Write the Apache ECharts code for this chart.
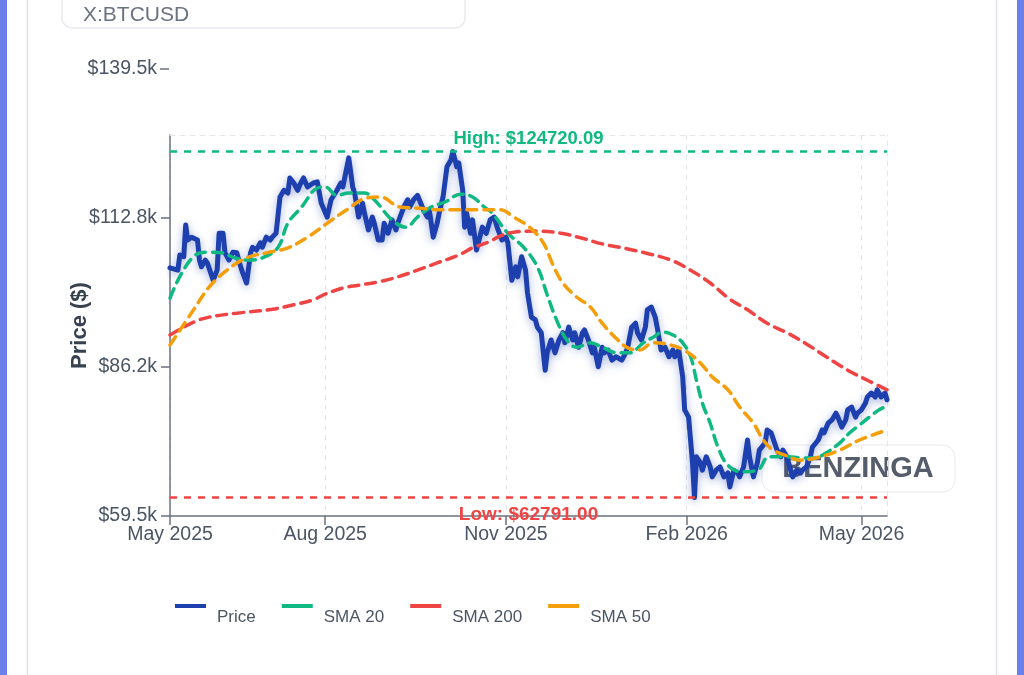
<!DOCTYPE html>
<html>
<head>
<meta charset="utf-8">
<title>X:BTCUSD</title>
<script src="https://cdn.jsdelivr.net/npm/echarts@6/dist/echarts.min.js"></script>
<style>
html, body { margin: 0; padding: 0; background: #fff; }
#chart { width: 1024px; height: 675px; }
</style>
</head>
<body>
<div id="chart"></div>
<script>
var FONT = '"Liberation Sans", Arial, Helvetica, sans-serif';

var highValue = 124720.09;
var lowValue = 62791.00;

var xStart = '2025-05-14';
var xEnd = '2026-05-14';
var xTickDates = ['2025-05-14', '2025-08-01', '2025-11-01', '2026-02-01', '2026-05-01'];
var xTickLabels = ['May 2025', 'Aug 2025', 'Nov 2025', 'Feb 2026', 'May 2026'];

var yMin = 59500;
var yMax = 127690;
var yTickValues = [59500, 86166.67, 112833.33, 139500];

var priceData = [
    ['2025-05-14', 103900], ['2025-05-18', 103500], ['2025-05-19', 106200], ['2025-05-21', 105900],
    ['2025-05-22', 111600], ['2025-05-23', 108900], ['2025-05-25', 109400], ['2025-05-28', 108900],
    ['2025-05-29', 105300], ['2025-05-30', 104100], ['2025-06-01', 105300], ['2025-06-02', 104800],
    ['2025-06-05', 101700], ['2025-06-07', 103500], ['2025-06-08', 110100], ['2025-06-10', 110100],
    ['2025-06-11', 106600], ['2025-06-13', 105300], ['2025-06-15', 106700], ['2025-06-17', 106600],
    ['2025-06-19', 104100], ['2025-06-20', 103000], ['2025-06-22', 101200], ['2025-06-24', 106600],
    ['2025-06-25', 107600], ['2025-06-27', 107100], ['2025-06-29', 108400], ['2025-06-30', 107600],
    ['2025-07-02', 109400], ['2025-07-04', 108900], ['2025-07-05', 109400], ['2025-07-07', 110100],
    ['2025-07-09', 116600], ['2025-07-11', 117800], ['2025-07-13', 117300], ['2025-07-14', 120000],
    ['2025-07-16', 119100], ['2025-07-18', 117800], ['2025-07-19', 118700], ['2025-07-21', 120000],
    ['2025-07-23', 118400], ['2025-07-24', 118200], ['2025-07-26', 119100], ['2025-07-28', 119300],
    ['2025-07-30', 115500], ['2025-08-02', 113000], ['2025-08-04', 116100], ['2025-08-07', 117800],
    ['2025-08-09', 119100], ['2025-08-10', 118400], ['2025-08-13', 123600], ['2025-08-15', 118400],
    ['2025-08-16', 117300], ['2025-08-18', 113000], ['2025-08-20', 115500], ['2025-08-21', 113700],
    ['2025-08-23', 110700], ['2025-08-25', 113000], ['2025-08-26', 111900], ['2025-08-28', 108900],
    ['2025-08-30', 108900], ['2025-08-31', 111900], ['2025-09-02', 110100], ['2025-09-04', 112500],
    ['2025-09-06', 110700], ['2025-09-07', 111900], ['2025-09-10', 114800], ['2025-09-12', 116100],
    ['2025-09-13', 114800], ['2025-09-15', 116100], ['2025-09-17', 116900], ['2025-09-18', 116600],
    ['2025-09-20', 114300], ['2025-09-22', 113000], ['2025-09-23', 114300], ['2025-09-25', 109400],
    ['2025-09-27', 111900], ['2025-09-28', 113700], ['2025-09-30', 116600], ['2025-10-02', 122000],
    ['2025-10-04', 123200], ['2025-10-05', 124720], ['2025-10-07', 122000], ['2025-10-08', 122700],
    ['2025-10-10', 117800], ['2025-10-11', 111200], ['2025-10-12', 113700], ['2025-10-14', 110100],
    ['2025-10-15', 112500], ['2025-10-17', 107100], ['2025-10-19', 109800], ['2025-10-20', 111200],
    ['2025-10-22', 110100], ['2025-10-24', 112500], ['2025-10-26', 113000], ['2025-10-28', 110700],
    ['2025-10-30', 108900], ['2025-11-01', 109400], ['2025-11-02', 108400], ['2025-11-04', 101700],
    ['2025-11-06', 104100], ['2025-11-07', 102300], ['2025-11-09', 105900], ['2025-11-11', 103500],
    ['2025-11-12', 99400], ['2025-11-14', 95100], ['2025-11-16', 94600], ['2025-11-17', 93300],
    ['2025-11-19', 92300], ['2025-11-21', 85600], ['2025-11-22', 88700], ['2025-11-24', 91000],
    ['2025-11-26', 88700], ['2025-11-28', 91000], ['2025-11-30', 92300], ['2025-12-01', 90500],
    ['2025-12-03', 93300], ['2025-12-05', 91000], ['2025-12-06', 92300], ['2025-12-08', 89700],
    ['2025-12-10', 92300], ['2025-12-11', 92800], ['2025-12-13', 91000], ['2025-12-15', 88700],
    ['2025-12-16', 89700], ['2025-12-18', 86200], ['2025-12-20', 89700], ['2025-12-21', 88700],
    ['2025-12-23', 89200], ['2025-12-25', 87400], ['2025-12-27', 88000], ['2025-12-28', 88000],
    ['2025-12-30', 87400], ['2026-01-01', 88700], ['2026-01-02', 89700], ['2026-01-04', 93300],
    ['2026-01-06', 94000], ['2026-01-07', 92300], ['2026-01-09', 91000], ['2026-01-11', 93300],
    ['2026-01-12', 96400], ['2026-01-14', 96900], ['2026-01-16', 95100], ['2026-01-17', 93300],
    ['2026-01-19', 89200], ['2026-01-21', 89700], ['2026-01-23', 88000], ['2026-01-25', 89200],
    ['2026-01-26', 88000], ['2026-01-28', 89200], ['2026-01-30', 84400], ['2026-01-31', 78500],
    ['2026-02-02', 77200], ['2026-02-03', 73100], ['2026-02-04', 69000], ['2026-02-05', 62791],
    ['2026-02-06', 70100], ['2026-02-08', 69000], ['2026-02-09', 67700], ['2026-02-11', 70100],
    ['2026-02-13', 68300], ['2026-02-14', 66500], ['2026-02-16', 67700], ['2026-02-18', 68300],
    ['2026-02-20', 66500], ['2026-02-22', 67200], ['2026-02-23', 64700], ['2026-02-25', 67700],
    ['2026-02-27', 67200], ['2026-02-28', 66500], ['2026-03-02', 68300], ['2026-03-04', 73100],
    ['2026-03-05', 70100], ['2026-03-07', 66500], ['2026-03-09', 69000], ['2026-03-10', 71300],
    ['2026-03-13', 72600], ['2026-03-14', 74900], ['2026-03-16', 74400], ['2026-03-19', 71300],
    ['2026-03-21', 70100], ['2026-03-22', 71300], ['2026-03-24', 70100], ['2026-03-26', 67700],
    ['2026-03-27', 66500], ['2026-03-29', 67700], ['2026-03-31', 67200], ['2026-04-01', 67700],
    ['2026-04-03', 68300], ['2026-04-05', 70100], ['2026-04-06', 71800], ['2026-04-09', 73100],
    ['2026-04-11', 74900], ['2026-04-12', 74400], ['2026-04-14', 76100], ['2026-04-16', 76700],
    ['2026-04-18', 77900], ['2026-04-19', 77200], ['2026-04-21', 75400], ['2026-04-23', 76700],
    ['2026-04-24', 78500], ['2026-04-26', 79000], ['2026-04-28', 77200], ['2026-04-29', 77900],
    ['2026-05-01', 78500], ['2026-05-03', 79700], ['2026-05-04', 80800], ['2026-05-06', 81500],
    ['2026-05-08', 80800], ['2026-05-09', 82100], ['2026-05-11', 80800], ['2026-05-13', 81500],
    ['2026-05-14', 80300]
];

var sma20Data = [
    ['2025-05-14', 98500], ['2025-05-20', 103000], ['2025-05-27', 106200], ['2025-06-02', 106700],
    ['2025-06-09', 106600], ['2025-06-16', 105700], ['2025-06-23', 105300], ['2025-06-30', 105700],
    ['2025-07-08', 107600], ['2025-07-13', 111900], ['2025-07-20', 114800], ['2025-07-28', 118200],
    ['2025-08-01', 118400], ['2025-08-07', 116900], ['2025-08-13', 117300], ['2025-08-21', 117300],
    ['2025-08-26', 116100], ['2025-09-04', 112500], ['2025-09-11', 111200], ['2025-09-17', 113000],
    ['2025-09-24', 114800], ['2025-10-01', 115700], ['2025-10-09', 117100], ['2025-10-15', 116600],
    ['2025-10-21', 114800], ['2025-10-25', 113700], ['2025-11-02', 110100], ['2025-11-10', 107600],
    ['2025-11-17', 104100], ['2025-11-22', 99100], ['2025-11-27', 94400], ['2025-12-02', 91000],
    ['2025-12-07', 89700], ['2025-12-14', 90500], ['2025-12-20', 89700], ['2025-12-28', 88700],
    ['2026-01-03', 88700], ['2026-01-10', 90500], ['2026-01-15', 91500], ['2026-01-20', 92400],
    ['2026-01-25', 91900], ['2026-01-30', 90500], ['2026-02-03', 88000], ['2026-02-06', 83800],
    ['2026-02-09', 79700], ['2026-02-13', 76100], ['2026-02-17', 71800], ['2026-02-22', 68600],
    ['2026-03-01', 67400], ['2026-03-09', 67700], ['2026-03-15', 70100], ['2026-03-24', 70100],
    ['2026-04-01', 69900], ['2026-04-07', 69900], ['2026-04-13', 70800], ['2026-04-20', 72600],
    ['2026-04-25', 74400], ['2026-04-30', 75800], ['2026-05-05', 77200], ['2026-05-10', 78500],
    ['2026-05-14', 79200]
];

var sma200Data = [
    ['2025-05-14', 91900], ['2025-05-26', 94200], ['2025-06-03', 95100], ['2025-06-17', 95800],
    ['2025-07-05', 96500], ['2025-07-16', 97300], ['2025-07-26', 98200], ['2025-08-01', 99200],
    ['2025-08-10', 100300], ['2025-08-18', 100800], ['2025-08-28', 101400], ['2025-09-07', 102300],
    ['2025-09-17', 103500], ['2025-09-27', 104800], ['2025-10-08', 106200], ['2025-10-15', 107500],
    ['2025-10-23', 108500], ['2025-10-29', 109600], ['2025-11-05', 110300], ['2025-11-17', 110500],
    ['2025-11-29', 110100], ['2025-12-09', 109300], ['2025-12-20', 108200], ['2026-01-02', 107300],
    ['2026-01-13', 106400], ['2026-01-24', 105300], ['2026-02-03', 103500], ['2026-02-13', 101200],
    ['2026-02-23', 98300], ['2026-03-04', 96400], ['2026-03-14', 94000], ['2026-03-24', 92300],
    ['2026-04-03', 90300], ['2026-04-13', 88000], ['2026-04-24', 85600], ['2026-05-04', 83800],
    ['2026-05-14', 82100]
];

var sma50Data = [
    ['2025-05-14', 90100], ['2025-05-26', 96400], ['2025-06-03', 100500], ['2025-06-12', 103500],
    ['2025-06-22', 105700], ['2025-07-02', 106600], ['2025-07-13', 107500], ['2025-07-23', 109400],
    ['2025-08-02', 111900], ['2025-08-12', 114300], ['2025-08-22', 116400], ['2025-08-29', 116600],
    ['2025-09-08', 114800], ['2025-09-18', 114600], ['2025-09-28', 114300], ['2025-10-09', 114300],
    ['2025-10-19', 114300], ['2025-10-29', 114300], ['2025-11-05', 113000], ['2025-11-13', 111200],
    ['2025-11-20', 108400], ['2025-11-25', 104400], ['2025-11-30', 101200], ['2025-12-07', 98700],
    ['2025-12-14', 96900], ['2025-12-20', 94000], ['2025-12-28', 91000], ['2026-01-02', 89600],
    ['2026-01-08', 89200], ['2026-01-15', 90500], ['2026-01-24', 90100], ['2026-02-01', 88900],
    ['2026-02-08', 86900], ['2026-02-14', 84400], ['2026-02-22', 82100], ['2026-02-28', 79000],
    ['2026-03-07', 76100], ['2026-03-12', 73100], ['2026-03-17', 71300], ['2026-03-23', 70400],
    ['2026-03-31', 69500], ['2026-04-10', 70100], ['2026-04-20', 71300], ['2026-04-30', 73100],
    ['2026-05-14', 74900]
];

var seriesNames = ['Price', 'SMA 20', 'SMA 200', 'SMA 50'];
var seriesColors = ['#1e40af', '#10b981', '#ef4444', '#f59e0b'];

var toTime = function (d) {
    return echarts.time.parse(d).getTime();
};

var toPoints = function (rows) {
    return rows.map(function (r) { return [toTime(r[0]), r[1]]; });
};

var fmtK = function (v) {
    return '$' + (v / 1000).toFixed(1) + 'k';
};

var xTickTimes = xTickDates.map(toTime);

var smaSeries = function (idx, data) {
    return {
        name: seriesNames[idx],
        type: 'line',
        data: toPoints(data),
        showSymbol: false,
        smooth: 0.4,
        color: seriesColors[idx],
        itemStyle: { color: seriesColors[idx] },
        lineStyle: { color: seriesColors[idx], width: 3.5, type: [10, 7], cap: 'round' },
        z: 3 + idx
    };
};

var chart = echarts.init(document.getElementById('chart'), null, { renderer: 'canvas' });

var option = {
    animation: false,
    backgroundColor: '#ffffff',
    textStyle: { fontFamily: FONT },
    grid: { left: 170, right: 137, top: 135, bottom: 159, containLabel: false },
    legend: {
        data: seriesNames,
        left: 170,
        top: 599,
        icon: 'rect',
        itemWidth: 31,
        itemHeight: 4,
        itemGap: 26,
        formatter: '{t|{name}}',
        textStyle: {
            rich: {
                t: { fontFamily: FONT, fontSize: 17, color: '#4b5563', padding: [23, 0, 0, 6] }
            }
        }
    },
    xAxis: [{
        type: 'value',
        min: toTime(xStart),
        max: toTime(xEnd),
        axisLine: { show: true, lineStyle: { color: '#6b7280', width: 1.5 } },
        axisTick: {
            show: true, length: 9, lineStyle: { color: '#6b7280', width: 1.5 },
            customValues: xTickTimes
        },
        axisLabel: {
            fontFamily: FONT, fontSize: 19.5, color: '#4b5563', margin: 9,
            customValues: xTickTimes,
            formatter: function (v) {
                for (var i = 0; i < xTickTimes.length; i++) {
                    if (Math.abs(xTickTimes[i] - v) < 1000) return xTickLabels[i];
                }
                return '';
            }
        },
        splitLine: { show: true, lineStyle: { color: '#e5e7eb', type: [5, 5], width: 1 } }
    }, {
        type: 'value', position: 'top', min: 0, max: 1,
        axisLine: { show: true, lineStyle: { color: '#e5e7eb', type: [5, 5], width: 1 } },
        axisTick: { show: false }, axisLabel: { show: false }, splitLine: { show: false }
    }],
    yAxis: [{
        type: 'value',
        min: yMin,
        max: yMax,
        name: 'Price ($)',
        nameLocation: 'middle',
        nameGap: 79,
        nameMoveOverlap: false,
        nameTextStyle: { fontFamily: FONT, fontSize: 22, fontWeight: 'bold', color: '#374151' },
        axisLine: { show: true, lineStyle: { color: '#6b7280', width: 1.5 } },
        axisTick: { show: true, length: 9, lineStyle: { color: '#6b7280', width: 1.5 }, customValues: yTickValues.slice(0, 3) },
        axisLabel: { fontFamily: FONT, fontSize: 19.5, color: '#4b5563', margin: 13, customValues: yTickValues.slice(0, 3), formatter: fmtK },
        splitLine: { show: false }
    }, {
        type: 'value', position: 'right', min: 0, max: 1,
        axisLine: { show: true, lineStyle: { color: '#e5e7eb', type: [5, 5], width: 1 } },
        axisTick: { show: false }, axisLabel: { show: false }, splitLine: { show: false }
    }],
    series: [{
        name: seriesNames[0],
        type: 'line',
        data: toPoints(priceData),
        showSymbol: false,
        color: seriesColors[0],
        itemStyle: { color: seriesColors[0] },
        lineStyle: {
            color: seriesColors[0], width: 5, join: 'round', cap: 'round',
            shadowColor: 'rgba(30,64,175,0.4)', shadowBlur: 8, shadowOffsetY: 2
        },
        z: 2,
        markLine: {
            silent: true,
            symbol: 'none',
            data: [{
                yAxis: highValue,
                lineStyle: { color: '#10b981', type: [7, 7], width: 2.5 },
                label: {
                    position: 'middle', distance: 3, formatter: 'High: $' + highValue.toFixed(2),
                    color: '#10b981', fontFamily: FONT, fontSize: 18.5, fontWeight: 'bold'
                }
            }, {
                yAxis: lowValue,
                lineStyle: { color: '#ef4444', type: [7, 7], width: 2.5 },
                label: {
                    position: 'insideMiddleBottom', distance: 8, formatter: 'Low: $' + lowValue.toFixed(2),
                    color: '#ef4444', fontFamily: FONT, fontSize: 19, fontWeight: 'bold'
                }
            }]
        }
    },
    smaSeries(1, sma20Data),
    smaSeries(2, sma200Data),
    smaSeries(3, sma50Data)],
    graphic: [
        { id: 'stripL', type: 'rect', shape: { x: 0, y: 0, width: 7, height: 675 }, style: { fill: '#6a7fe9' }, silent: true },
        { id: 'stripR', type: 'rect', shape: { x: 1017, y: 0, width: 7, height: 675 }, style: { fill: '#6a7fe9' }, silent: true },
        { id: 'edgeL', type: 'line', shape: { x1: 27.5, y1: 0, x2: 27.5, y2: 675 }, style: { stroke: '#dfe2e8', lineWidth: 1.5 }, silent: true },
        { id: 'edgeR', type: 'line', shape: { x1: 996.5, y1: 0, x2: 996.5, y2: 675 }, style: { stroke: '#dfe2e8', lineWidth: 1.5 }, silent: true },
        { id: 'tickerBox', type: 'rect', shape: { x: 62, y: -14, width: 403, height: 42, r: 10 }, style: { fill: '#ffffff', stroke: '#e8eaee', lineWidth: 1.5 }, silent: true },
        { id: 'tickerText', type: 'text', x: 83, y: 15, style: { text: 'X:BTCUSD', fill: '#6b7280', font: '21px ' + FONT, verticalAlign: 'middle' }, silent: true },
        {
            id: 'mark', type: 'group', z: 100, silent: true,
            children: [
                { type: 'rect', shape: { x: 762, y: 445, width: 193, height: 47, r: 12 }, style: { fill: 'rgba(255,255,255,0.72)', stroke: 'rgba(229,231,235,0.9)', lineWidth: 1 } },
                { type: 'text', x: 858, y: 469, style: { text: 'BENZINGA', fill: 'rgba(55,65,81,0.85)', font: 'bold 29px ' + FONT, align: 'center', verticalAlign: 'middle' } }
            ]
        }
    ]
};

chart.setOption(option);

// stray top tick label sits above the plot, place it from the axis scale
var topY = chart.convertToPixel({ yAxisIndex: 0 }, yTickValues[3]);
chart.setOption({
    graphic: [
        { id: 'topTickText', type: 'text', x: 157, y: topY, style: { text: fmtK(yTickValues[3]), fill: '#4b5563', font: '19.5px ' + FONT, align: 'right', verticalAlign: 'middle' }, silent: true },
        { id: 'topTickMark', type: 'line', shape: { x1: 160, y1: topY, x2: 169, y2: topY }, style: { stroke: '#6b7280', lineWidth: 1.5 }, silent: true }
    ]
});
</script>
</body>
</html>
